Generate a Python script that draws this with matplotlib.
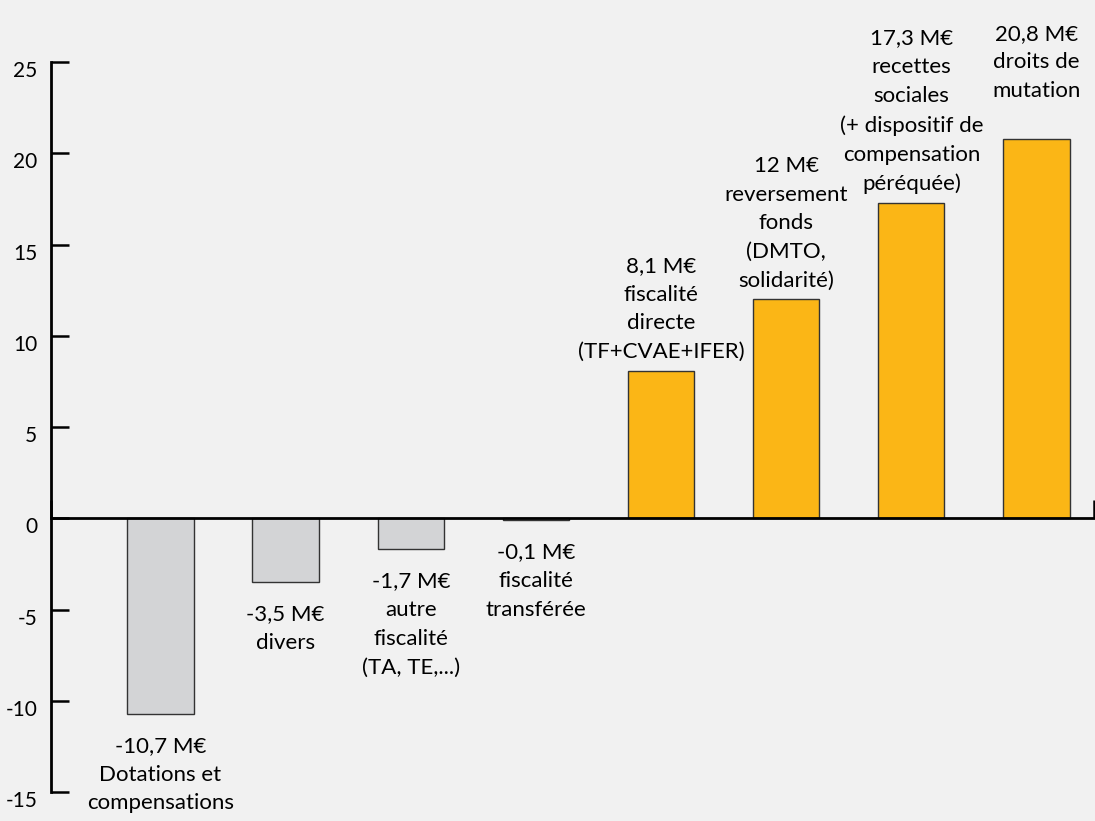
from matplotlib import pyplot as plt
from matplotlib import transforms
import numpy as np

plt.rcParams['font.family'] = ['Lato', 'DejaVu Sans']

# values in M€
values = [-10.7, -3.5, -1.7, -0.1, 8.1, 12, 17.3, 20.8]
labels = ['-10,7 M€\nDotations et\ncompensations',
          '-3,5 M€\ndivers',
          '-1,7 M€\nautre\nfiscalité\n(TA, TE,...)',
          '-0,1 M€\nfiscalité\ntransférée',
          '8,1 M€\nfiscalité\ndirecte\n(TF+CVAE+IFER)',
          '12 M€\nreversement\nfonds\n(DMTO,\nsolidarité)',
          '17,3 M€\nrecettes\nsociales\n(+ dispositif de\ncompensation\npéréquée)',
          '20,8 M€\ndroits de\nmutation']
yticks = [-15, -10, -5, 0, 5, 10, 15, 20, 25]

bg = '#f1f1f1'
grey = '#d3d4d6'
orange = '#fbb616'

fig = plt.figure(figsize=(10.95, 8.21), dpi=100, facecolor=bg)
ax = fig.add_axes([0.0466, 0.0353, 0.9525, 0.889])
ax.set_facecolor(bg)

x = np.arange(len(values))
colors = [grey if v < 0 else orange for v in values]
ax.bar(x, values, width=0.53, color=colors, edgecolor='#333333', linewidth=1, zorder=2)

# labels above / below each bar
extra = [0, 0, 0, 0, 0, 0, 0, 21]
for xi, v, lab, ex in zip(x, values, labels, extra):
    if v < 0:
        ax.annotate(lab, (xi, v), xytext=(0, -16), textcoords='offset points',
                    ha='center', va='top', fontsize=16, linespacing=1.55)
    else:
        ax.annotate(lab, (xi, v), xytext=(0, 6 + ex), textcoords='offset points',
                    ha='center', va='bottom', fontsize=16, linespacing=1.55)

ax.set_ylim(-15, 25)
ax.set_xlim(-0.875, 7.46)
ax.set_yticks(yticks)
ax.set_yticklabels([str(t) for t in yticks], fontsize=15)

ax.spines['top'].set_visible(False)
ax.spines['right'].set_visible(False)
ax.spines['left'].set_linewidth(2)
ax.spines['bottom'].set_position(('data', 0))
ax.spines['bottom'].set_linewidth(2)
ax.spines['bottom'].set_zorder(3)

ax.tick_params(axis='y', direction='in', length=13, width=1.8, pad=10)
ax.set_xticks([-0.875, 7.46])
ax.tick_params(axis='x', direction='in', length=13, width=1.8, labelbottom=False)

# old-style figures sit a bit low
off = transforms.ScaledTranslation(0, -7 / 100, fig.dpi_scale_trans)
for t in ax.get_yticklabels():
    t.set_transform(t.get_transform() + off)

fig.savefig('out.png', dpi=100, facecolor=bg)
